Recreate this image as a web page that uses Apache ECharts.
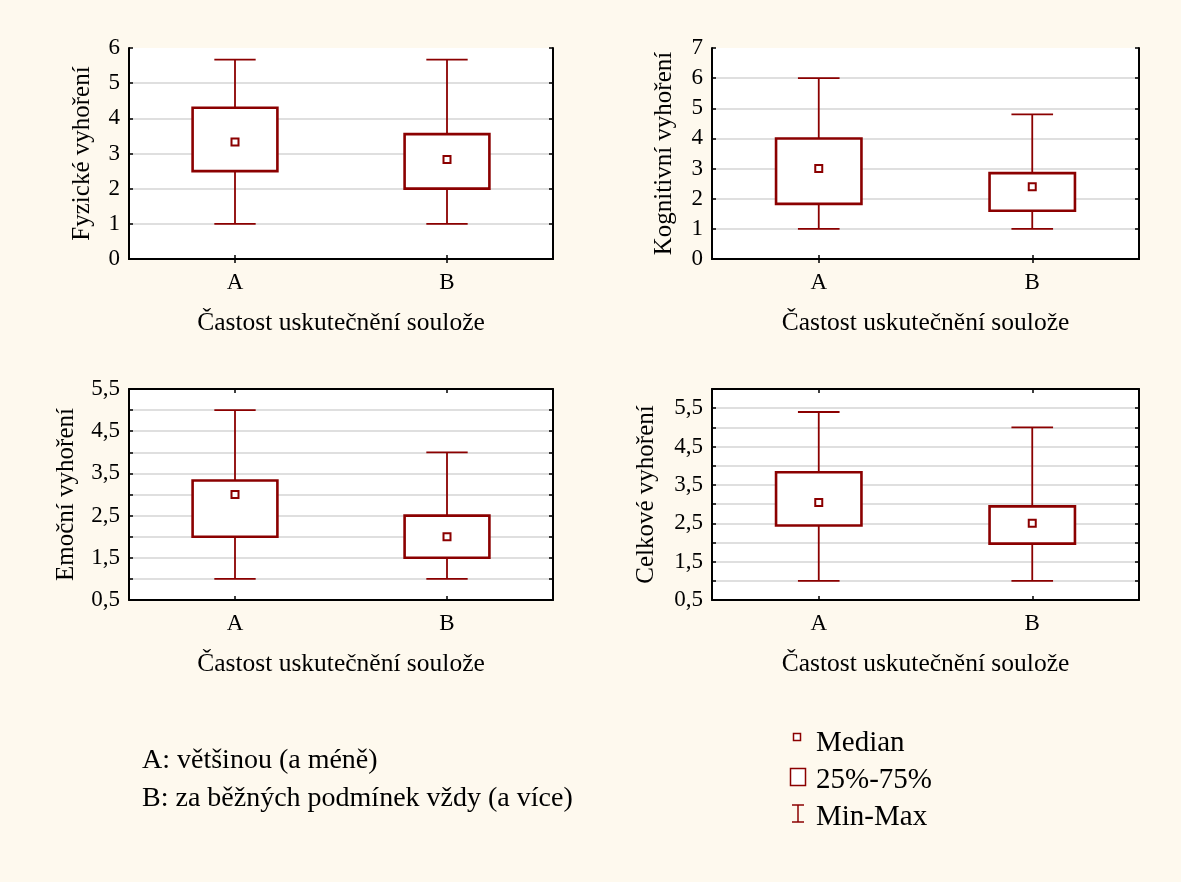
<!DOCTYPE html>
<html>
<head>
<meta charset="utf-8">
<script src="https://cdn.jsdelivr.net/npm/echarts@6/dist/echarts.min.js"></script>
<style>
  html, body { margin: 0; padding: 0; background: #fef9ee; }
  #chart { width: 1181px; height: 882px; }
</style>
</head>
<body>
<div id="chart"></div>
<script>
// Categories of the grouping variable
const categories = ['A', 'B'];
const xAxisTitle = 'Častost uskutečnění soulože';

// Box statistics per category: [min, q1, median, q3, max]
const fyzicke     = [[1, 2.5, 3.33, 4.3, 5.67], [1, 2.0, 2.83, 3.55, 5.67]];
const kognitivni  = [[1, 1.83, 3.0, 4.0, 6.0],  [1, 1.6, 2.4, 2.85, 4.8]];
const emocni      = [[1, 2.0, 3.0, 3.33, 5.0],  [1, 1.5, 2.0, 2.5, 4.0]];
const celkove     = [[1, 2.44, 3.04, 3.83, 5.4], [1, 1.97, 2.5, 2.94, 5.0]];

// Axis names and scales of the four panels
const panelNames = ['Fyzické vyhoření', 'Kognitivní vyhoření', 'Emoční vyhoření', 'Celkové vyhoření'];
const panelData = [fyzicke, kognitivni, emocni, celkove];
const yMin = [0, 0, 0.5, 0.5];
const yMax = [6, 7, 5.5, 6];
const yInterval = [1, 1, 0.5, 0.5];

// Legend texts
const groupKey = ['A: většinou (a méně)', 'B: za běžných podmínek vždy (a více)'];
const markKey = ['Median', '25%-75%', 'Min-Max'];

const RED = '#8b0000';
const FONT = '"Liberation Serif", "Times New Roman", serif';

const grids = [
  { left: 129, top: 48,  width: 424, height: 211 },
  { left: 712, top: 48,  width: 427, height: 211 },
  { left: 129, top: 389, width: 424, height: 211 },
  { left: 712, top: 389, width: 427, height: 211 }
];
const nameGaps = [34, 35, 50, 53];

function tickLabel(i) {
  return function (v) {
    if (yInterval[i] === 0.5) {
      // only the x.5 ticks carry a label
      const off = v - 0.5;
      if (Math.abs(off - Math.round(off)) > 1e-6) return '';
    }
    return String(+v.toFixed(2)).replace('.', ',');
  };
}

const xAxes = [], yAxes = [], series = [];
grids.forEach(function (g, i) {
  xAxes.push({
    type: 'category', gridIndex: i, data: categories, position: 'bottom',
    boundaryGap: true,
    name: xAxisTitle, nameLocation: 'middle', nameGap: 51,
    nameTextStyle: { fontFamily: FONT, fontSize: 25.5, color: '#000' },
    axisLine: { show: true, lineStyle: { color: '#000', width: 2 } },
    axisTick: { show: true, inside: true, alignWithLabel: true, length: 4, lineStyle: { color: '#000', width: 1.5 } },
    axisLabel: { fontFamily: FONT, fontSize: 23, color: '#000', margin: 12 },
    splitLine: { show: false }
  });
  xAxes.push({
    type: 'category', gridIndex: i, data: categories, position: 'top',
    boundaryGap: true,
    axisLine: { show: true, lineStyle: { color: '#000', width: 2 } },
    axisTick: { show: true, inside: true, alignWithLabel: true, length: 4, lineStyle: { color: '#000', width: 1.5 } },
    axisLabel: { show: false },
    splitLine: { show: false }
  });
  yAxes.push({
    type: 'value', gridIndex: i, position: 'left',
    min: yMin[i], max: yMax[i], interval: yInterval[i],
    name: panelNames[i], nameLocation: 'middle', nameGap: nameGaps[i], nameRotate: 90,
    nameTextStyle: { fontFamily: FONT, fontSize: 25, color: '#000' },
    axisLine: { show: true, lineStyle: { color: '#000', width: 2 } },
    axisTick: { show: true, inside: true, length: 4, lineStyle: { color: '#000', width: 1.5 } },
    axisLabel: { fontFamily: FONT, fontSize: 23, color: '#000', margin: 9, formatter: tickLabel(i) },
    splitLine: { show: true, showMinLine: false, showMaxLine: false, lineStyle: { color: '#d4d4d4', width: 1.5 } }
  });
  yAxes.push({
    type: 'value', gridIndex: i, position: 'right',
    min: yMin[i], max: yMax[i], interval: yInterval[i],
    axisLine: { show: true, lineStyle: { color: '#000', width: 2 } },
    axisTick: { show: true, inside: true, length: 4, lineStyle: { color: '#000', width: 1.5 } },
    axisLabel: { show: false },
    splitLine: { show: false }
  });

  series.push({
    type: 'custom',
    xAxisIndex: 2 * i, yAxisIndex: 2 * i,
    encode: { x: 0, y: [1, 2, 3, 4, 5] },
    data: panelData[i].map(function (s, c) { return [c].concat(s); }),
    renderItem: function (params, api) {
      const c = api.value(0);
      const lo = api.coord([c, api.value(1)]);
      const q1 = api.coord([c, api.value(2)]);
      const md = api.coord([c, api.value(3)]);
      const q3 = api.coord([c, api.value(4)]);
      const hi = api.coord([c, api.value(5)]);
      const band = api.size([1, 0])[0];
      const x = lo[0];
      const boxW = band * 0.4;
      const capW = band * 0.195;
      const ws = { stroke: RED, lineWidth: 1.8 };
      return {
        type: 'group',
        children: [
          { type: 'line', shape: { x1: x, y1: lo[1], x2: x, y2: hi[1] }, style: ws },
          { type: 'line', shape: { x1: x - capW / 2, y1: lo[1], x2: x + capW / 2, y2: lo[1] }, style: ws },
          { type: 'line', shape: { x1: x - capW / 2, y1: hi[1], x2: x + capW / 2, y2: hi[1] }, style: ws },
          { type: 'rect', shape: { x: x - boxW / 2, y: q3[1], width: boxW, height: q1[1] - q3[1] },
            style: { fill: '#fff', stroke: RED, lineWidth: 2.6 } },
          { type: 'rect', shape: { x: md[0] - 3.5, y: md[1] - 3.5, width: 7, height: 7 },
            style: { fill: '#fff', stroke: RED, lineWidth: 2 } }
        ]
      };
    }
  });
});

const legendGraphics = [
  { type: 'text', x: 142, y: 761, style: { text: groupKey[0], font: '28px ' + FONT, fill: '#000', verticalAlign: 'middle' } },
  { type: 'text', x: 142, y: 799, style: { text: groupKey[1], font: '28px ' + FONT, fill: '#000', verticalAlign: 'middle' } },

  { type: 'rect', shape: { x: 793.5, y: 733.5, width: 7, height: 7 }, style: { fill: '#fff', stroke: RED, lineWidth: 1.5 } },
  { type: 'text', x: 816, y: 743, style: { text: markKey[0], font: '29px ' + FONT, fill: '#000', verticalAlign: 'middle' } },

  { type: 'rect', shape: { x: 790.5, y: 768.5, width: 15, height: 17 }, style: { fill: '#fff', stroke: RED, lineWidth: 1.5 } },
  { type: 'text', x: 816, y: 780, style: { text: markKey[1], font: '29px ' + FONT, fill: '#000', verticalAlign: 'middle' } },

  { type: 'line', shape: { x1: 798, y1: 805, x2: 798, y2: 822 }, style: { stroke: RED, lineWidth: 1.5 } },
  { type: 'line', shape: { x1: 792, y1: 805, x2: 804, y2: 805 }, style: { stroke: RED, lineWidth: 1.5 } },
  { type: 'line', shape: { x1: 792, y1: 822, x2: 804, y2: 822 }, style: { stroke: RED, lineWidth: 1.5 } },
  { type: 'text', x: 816, y: 817, style: { text: markKey[2], font: '29px ' + FONT, fill: '#000', verticalAlign: 'middle' } }
];

const chart = echarts.init(document.getElementById('chart'), null, { renderer: 'canvas' });
chart.setOption({
  backgroundColor: '#fef9ee',
  animation: false,
  grid: grids.map(function (g) {
    return Object.assign({ show: true, backgroundColor: '#fff', borderWidth: 0, containLabel: false }, g);
  }),
  xAxis: xAxes,
  yAxis: yAxes,
  series: series,
  graphic: legendGraphics
});
</script>
</body>
</html>
